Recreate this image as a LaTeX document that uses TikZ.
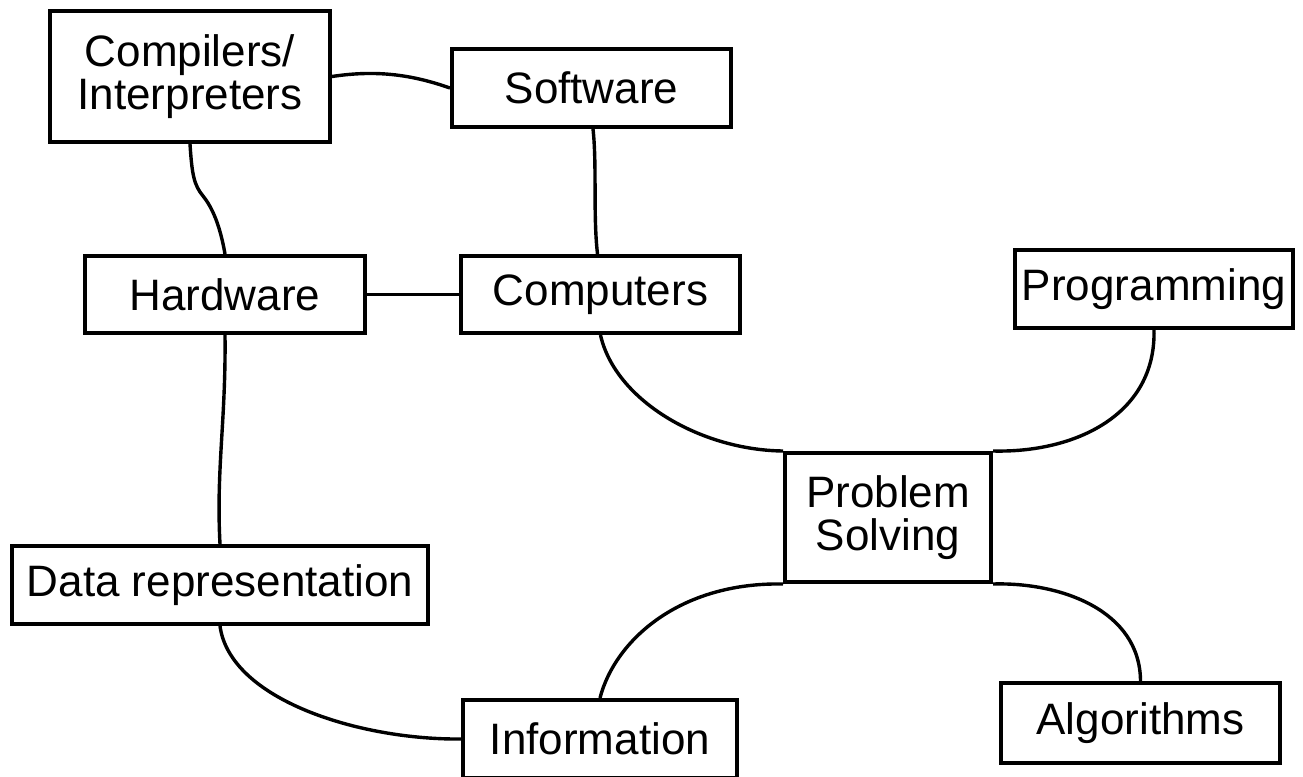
\documentclass[tikz,border=0pt]{standalone}
\usepackage{fontspec}
\setmainfont{Liberation Sans}
\begin{document}
\begin{tikzpicture}[x=1pt,y=-1pt,
  box/.style={draw, line width=4pt, inner sep=0pt, align=center,
    font=\fontsize{44}{43}\selectfont},
  link/.style={line width=3.4pt}]
\useasboundingbox[fill=white] (0,0) rectangle (1303,776);
% nodes
\node[box, minimum width=280pt, minimum height=131pt] (comp) at (190,76.5) {Compilers/\\Interpreters};
\node[box, minimum width=279pt, minimum height=78pt] (soft) at (591.5,88) {Software};
\node[box, minimum width=280pt, minimum height=77pt] (hard) at (225,294.5) {Hardware};
\node[box, minimum width=279pt, minimum height=77pt] (cmpt) at (600.5,294.5) {Computers};
\node[box, minimum width=278pt, minimum height=78pt] (prog) at (1154,289) {Programming};
\node[box, minimum width=206pt, minimum height=129pt] (ps) at (888,517.5) {Problem\\Solving};
\node[box, minimum width=416pt, minimum height=78pt] (data) at (220,585) {Data representation};
\node[box, minimum width=274pt, minimum height=78pt] (info) at (600,739) {Information};
\node[box, minimum width=279pt, minimum height=80pt] (alg) at (1140.5,723) {Algorithms};
% connectors
\draw[link] (comp.east) .. controls (375,70) and (410,74) .. (soft.west);
\draw[link] (comp.south) .. controls (192,175) and (194,185) .. (203,196)
  .. controls (212,207) and (220,225) .. (hard.north);
\draw[link] ([xshift=1.5pt]soft.south) .. controls (597,165) and (593,215) .. ([xshift=-3pt]cmpt.north);
\draw[link] (hard.east) -- (cmpt.west);
\draw[link] (hard.south) .. controls (226,420) and (216,470) .. (data.north);
\draw[link] (cmpt.south) .. controls (615,400) and (700,450) .. (ps.north west);
\draw[link] (prog.south) .. controls (1156,415) and (1075,453) .. (ps.north east);
\draw[link] (ps.south west) .. controls (680,582) and (615,640) .. (info.north);
\draw[link] (ps.south east) .. controls (1060,582) and (1140,610) .. (alg.north);
\draw[link] (data.south) .. controls (230,700) and (360,740) .. (info.west);
\end{tikzpicture}
\end{document}
